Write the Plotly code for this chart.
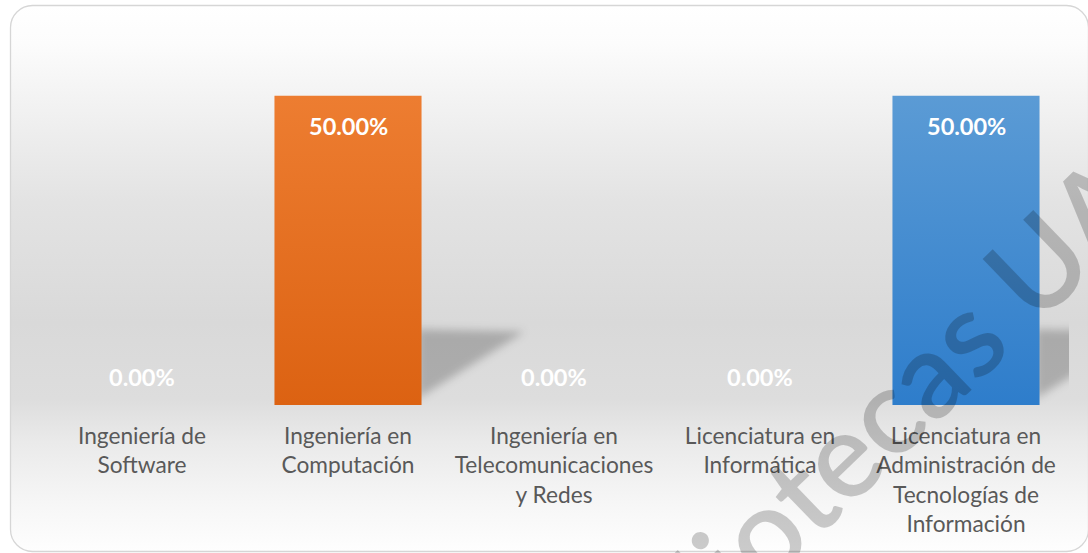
import base64
import json
import plotly.graph_objects as go

# ---------------- data ----------------
categories = [
    "Ingeniería de<br>Software",
    "Ingeniería en<br>Computación",
    "Ingeniería en<br>Telecomunicaciones<br>y Redes",
    "Licenciatura en<br>Informática",
    "Licenciatura en<br>Administración de<br>Tecnologías de<br>Información",
]
values = [0.0, 50.0, 0.0, 0.0, 50.0]
color_top = ["#5B9BD5", "#ED7D31", "#A5A5A5", "#FFC000", "#5B9BD5"]
color_bottom = ["#2E7DCB", "#DC6212", "#8C8C8C", "#E0A800", "#2E7DCB"]
color_mid = ["#4A8DD1", "#E57022", "#999999", "#F0B400", "#4A8DD1"]
watermark = "Bibliotecas UAA"

# ---------------- geometry helpers ----------------
W, H = 1088, 553
ML, MR, MT, MB = 39, 19, 34, 148
PW, PH = W - ML - MR, H - MT - MB
BAR_W = 0.714
YMAX = 60

xs = list(range(len(categories)))

fig = go.Figure()
fig.add_trace(go.Bar(
    x=xs, y=values, width=BAR_W,
    marker=dict(color=color_mid, line=dict(width=0)),
    hoverinfo="skip",
))

# perspective shadows (blurred later by a filter)
shapes = []
for i, v in zip(xs, values):
    if v <= 0:
        continue
    x0 = i + BAR_W / 2
    h = v * 0.245
    d = 0.50
    path = (f"M {x0 - 0.02},{v * 0.02} "
            f"L {x0 - 0.02},{h} "
            f"L {x0 + d},{h * 0.97} Z")
    shapes.append(dict(type="path", path=path, xref="x", yref="y",
                       fillcolor="rgba(0,0,0,0.22)", line=dict(width=0),
                       layer="below", name="shadow"))

# value labels
annotations = []
for i, v in zip(xs, values):
    annotations.append(dict(
        x=i, y=v, xref="x", yref="y", text=f"{v:.2f}%", showarrow=False,
        xanchor="center", yanchor="middle", yshift=-30 if v > 0 else 28,
        font=dict(family="Lato", size=23.5, color="#FFFFFF", weight="bold"),
    ))

# watermark
annotations.append(dict(
    x=(876 - ML) / PW, y=(405 - 418) / PH, xref="paper", yref="paper",
    text=watermark, showarrow=False, textangle=-44,
    xanchor="center", yanchor="middle",
    font=dict(family="Lato", size=120, color="rgba(0,0,0,0.2)", weight=600),
))

# background: chart-area gradient with rounded border
stops = [(0.0, "#ffffff"), (0.07, "#fcfcfc"), (0.18, "#f2f2f2"), (0.36, "#e3e3e3"),
         (0.58, "#d9d9d9"), (0.72, "#dddddd"), (0.80, "#eaeaea"), (0.90, "#f5f5f5"),
         (1.0, "#fefefe")]
stop_xml = "".join(f"<stop offset='{o}' stop-color='{c}'/>" for o, c in stops)
svg = (f"<svg xmlns='http://www.w3.org/2000/svg' width='{W}' height='{H}' viewBox='0 0 {W} {H}'>"
       f"<defs><linearGradient id='g' x1='0' y1='0' x2='0' y2='1'>{stop_xml}</linearGradient></defs>"
       f"<rect x='10.5' y='5.5' width='1078' height='546' rx='22' ry='22' fill='url(#g)' "
       f"stroke='#d6d6d6' stroke-width='1.3'/></svg>")
src = "data:image/svg+xml;base64," + base64.b64encode(svg.encode()).decode()

fig.update_layout(
    width=W, height=H,
    margin=dict(l=ML, r=MR, t=MT, b=MB),
    paper_bgcolor="#ffffff", plot_bgcolor="rgba(0,0,0,0)",
    showlegend=False, bargap=1 - BAR_W,
    images=[dict(source=src, xref="paper", yref="paper",
                 x=-ML / PW, y=1 + MT / PH, sizex=W / PW, sizey=H / PH,
                 xanchor="left", yanchor="top", sizing="stretch", layer="below")],
    shapes=shapes,
    annotations=annotations,
    xaxis=dict(range=[-0.5, len(categories) - 0.5], tickvals=xs, ticktext=categories,
               showgrid=False, zeroline=False, showline=False, ticks="",
               ticklabelstandoff=15,
               tickfont=dict(family="Lato", size=22.7, color="#595959")),
    yaxis=dict(range=[0, YMAX], showgrid=False, zeroline=False, showline=False,
               showticklabels=False, ticks=""),
)

js = """
(function(){
document.documentElement.style.margin='0';
document.body.style.margin='0';
document.body.style.overflow='hidden';
var gd=document.getElementById('{plot_id}');
var tops=TOPS, bots=BOTS;
function apply(){
  var svg=gd.querySelector('svg.main-svg'); if(!svg) return;
  var NS='http://www.w3.org/2000/svg';
  var defs=svg.querySelector('defs');
  if(!defs){defs=document.createElementNS(NS,'defs'); svg.insertBefore(defs, svg.firstChild);}
  var pts=gd.querySelectorAll('.trace.bars .point');
  pts.forEach(function(pt, k){
    var dd=pt.__data__; var i=(dd && dd.i!==undefined)?dd.i:k;
    var id='bargrad'+i;
    if(!svg.querySelector('#'+id)){
      var g=document.createElementNS(NS,'linearGradient');
      g.setAttribute('id',id); g.setAttribute('x1','0'); g.setAttribute('y1','0');
      g.setAttribute('x2','0'); g.setAttribute('y2','1');
      var s1=document.createElementNS(NS,'stop'); s1.setAttribute('offset','0'); s1.setAttribute('stop-color',tops[i]);
      var s2=document.createElementNS(NS,'stop'); s2.setAttribute('offset','1'); s2.setAttribute('stop-color',bots[i]);
      g.appendChild(s1); g.appendChild(s2); defs.appendChild(g);
    }
    var p=pt.querySelector('path'); if(p){ p.style.fill='url(#'+id+')'; }
  });
  if(!svg.querySelector('#shadowblur')){
    var f=document.createElementNS(NS,'filter');
    f.setAttribute('id','shadowblur');
    f.setAttribute('x','-50%'); f.setAttribute('y','-50%');
    f.setAttribute('width','200%'); f.setAttribute('height','200%');
    var b=document.createElementNS(NS,'feGaussianBlur'); b.setAttribute('stdDeviation','4');
    f.appendChild(b); defs.appendChild(f);
  }
  gd.querySelectorAll('.shapelayer path').forEach(function(p){
    if(p.parentNode.getAttribute('data-blur')!=='1'){
      var g=document.createElementNS(NS,'g');
      p.parentNode.insertBefore(g, p); g.appendChild(p);
      g.setAttribute('data-blur','1'); g.setAttribute('filter','url(#shadowblur)');
    }
  });
}
apply();
if(gd.on){ gd.on('plotly_afterplot', apply); }
})();
""".replace("TOPS", json.dumps(color_top)).replace("BOTS", json.dumps(color_bottom))

fig.write_html("out.html", post_script=js, config={"displayModeBar": False})
